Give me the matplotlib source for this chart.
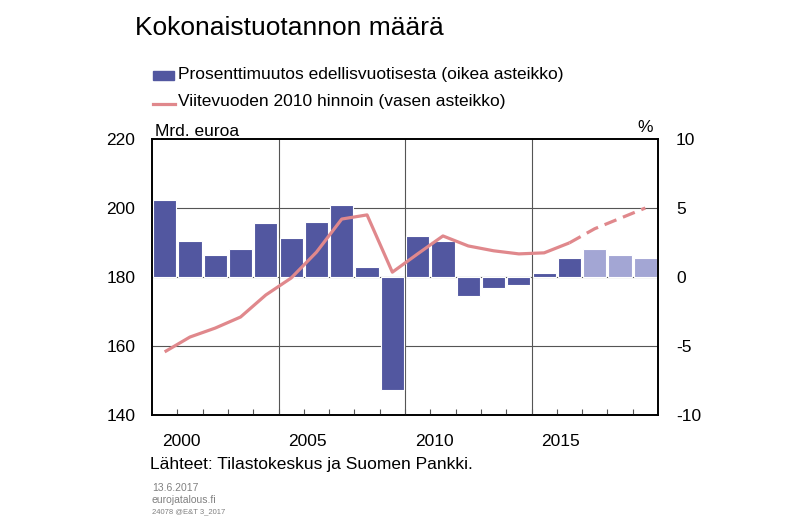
import matplotlib.pyplot as plt
import numpy as np
from matplotlib.patches import Rectangle
from matplotlib.lines import Line2D

plt.rcParams['font.family'] = ['Liberation Sans', 'DejaVu Sans']
plt.rcParams['axes.unicode_minus'] = False

years = list(range(2000, 2020))
# volume change from previous year, % (right axis)
change = [5.6, 2.6, 1.6, 2.0, 3.9, 2.8, 4.0, 5.2, 0.7, -8.2,
          3.0, 2.6, -1.4, -0.8, -0.6, 0.3, 1.4, 2.0, 1.6, 1.4]
# GDP at reference year 2010 prices, bn euro (left axis)
level = [158.3, 162.6, 165.2, 168.4, 174.8, 179.7, 187.2, 196.8, 198.0, 181.4,
         186.7, 191.9, 189.0, 187.6, 186.7, 187.0, 189.9, 194.0, 197.0, 200.0]
first_forecast = 2017
xlabels = [2000, 2005, 2010, 2015]

dark = '#5257a0'
light = '#a3a6d4'
red = '#e0888c'

fig = plt.figure(figsize=(8, 5.24), dpi=100)
ax = fig.add_axes([152/800, 1-415/524, 506/800, 276/524])
ax2 = ax.twinx()

x = np.arange(len(years))
cols = [light if y >= first_forecast else dark for y in years]
ax2.bar(x, change, width=0.92, color=cols, edgecolor='white', linewidth=0.8, zorder=2)
ax2.set_ylim(-10, 10)
ax2.set_yticks([10, 5, 0, -5, -10])

ax.set_zorder(ax2.get_zorder() + 1)
ax.patch.set_visible(False)

hist = [i for i, y in enumerate(years) if y <= first_forecast - 1]
fc = [i for i, y in enumerate(years) if y >= first_forecast - 1]
ax.plot(x[hist], np.array(level)[hist], color=red, lw=2.3, solid_capstyle='butt')
ax.plot(x[fc], np.array(level)[fc], color=red, lw=2.3, dashes=(4, 2.2))
ax.set_ylim(140, 220)
ax.set_yticks([220, 200, 180, 160, 140])
ax.set_xlim(-0.5, len(years) - 0.5)

# grid
for v in [200, 180, 160]:
    ax2.axhline((v - 180) / 4, color='#555555', lw=0.8, zorder=1)
for g in [4.5, 9.5, 14.5]:
    ax2.axvline(g, color='#555555', lw=0.8, zorder=1)

ax.set_xticks(np.arange(0.5, len(years) - 1, 1))
ax.set_xticklabels([])
ax.tick_params(axis='x', direction='in', length=4, color='#555555')
ax.set_xticks([years.index(y) + 0.65 for y in xlabels], minor=True)
ax.set_xticklabels([str(y) for y in xlabels], minor=True)
ax.tick_params(axis='x', which='minor', length=0, pad=14, labelsize=12.5)

ax.tick_params(axis='y', length=0, pad=12, labelsize=12.5)
ax2.tick_params(axis='y', length=0, pad=13, labelsize=12.5)
for a in (ax, ax2):
    for s in a.spines.values():
        s.set_linewidth(1.2)
        s.set_color('black')

ax.text(0.005, 1.0, 'Mrd. euroa', transform=ax.transAxes, fontsize=12.5, va='bottom')
ax.text(0.99, 1.015, '%', transform=ax.transAxes, fontsize=12.5, va='bottom', ha='right')

fig.text(135/800, 1-28/524, 'Kokonaistuotannon määrä', fontsize=19, va='center')

fig.add_artist(Rectangle((153/800, 1-80/524), 21/800, 9/524, transform=fig.transFigure,
                         color=dark))
fig.text(178/800, 1-75/524, 'Prosenttimuutos edellisvuotisesta (oikea asteikko)',
         fontsize=12.5, va='center')
fig.add_artist(Line2D([153/800, 175/800], [1-104/524, 1-104/524], transform=fig.transFigure,
                      color=red, lw=2.3))
fig.text(178/800, 1-102/524, 'Viitevuoden 2010 hinnoin (vasen asteikko)',
         fontsize=12.5, va='center')

fig.text(150/800, 1-465/524, 'Lähteet: Tilastokeskus ja Suomen Pankki.', fontsize=12.5, va='center')
fig.text(152/800, 1-488/524, '13.6.2017', fontsize=7.5, color='#808080', va='center')
fig.text(152/800, 1-500/524, 'eurojatalous.fi', fontsize=7.5, color='#808080', va='center')
fig.text(152/800, 1-512/524, '24078 @E&T 3_2017', fontsize=5.5, color='#808080', va='center')

fig.savefig('out.png', dpi=100)
